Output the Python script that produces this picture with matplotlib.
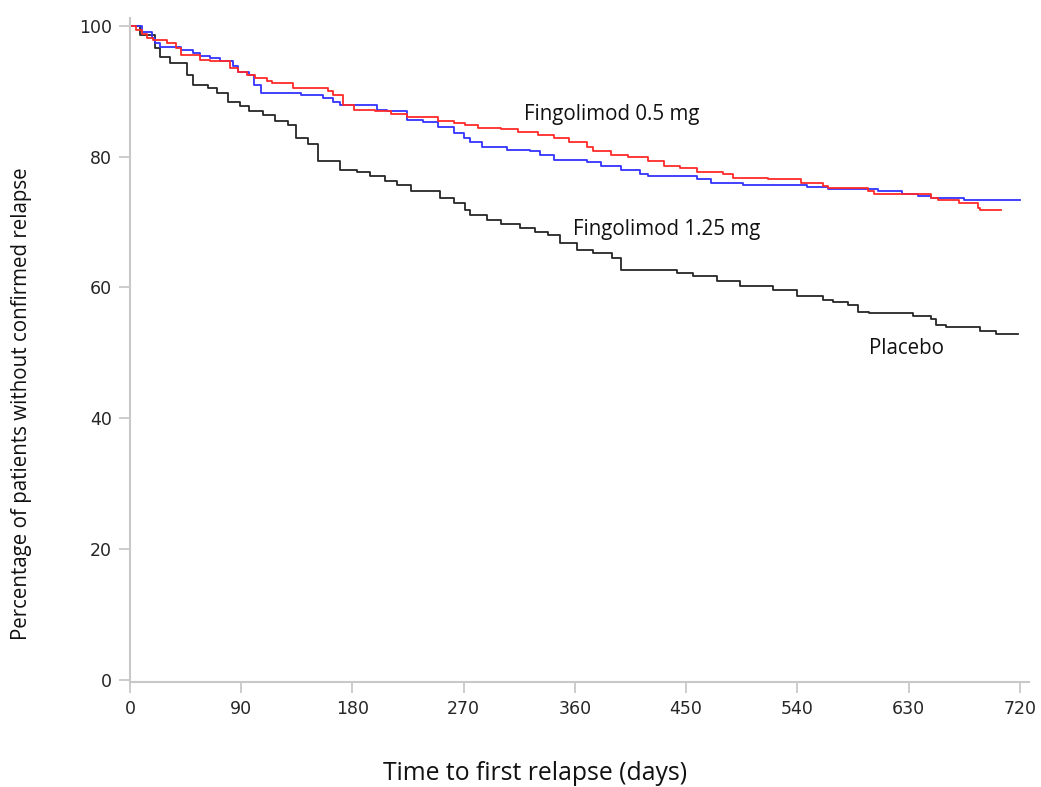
import matplotlib
matplotlib.use("Agg")
import matplotlib.pyplot as plt

# ---------- Data ----------
placebo_t = [0, 8, 20, 24, 32, 46, 51, 63, 70, 79, 89, 96, 108, 117, 128, 134,
             144, 152, 170, 184, 194, 206, 216, 227, 251, 262, 271, 275, 289,
             300, 316, 328, 338, 348, 362, 375, 390, 397, 443, 456, 475, 494,
             520, 540, 561, 569, 581, 589, 598, 634, 648, 652, 660, 688, 701, 719]
placebo_v = [100, 98.6, 96.6, 95.3, 94.3, 92.5, 91.0, 90.5, 89.7, 88.4, 87.7,
             86.9, 86.4, 85.4, 84.9, 82.9, 82.0, 79.3, 78.0, 77.7, 77.0, 76.2,
             75.6, 74.7, 73.7, 72.9, 71.9, 71.1, 70.3, 69.7, 69.1, 68.5, 68.0,
             66.8, 65.7, 65.3, 64.5, 62.7, 62.2, 61.7, 60.9, 60.2, 59.6, 58.6,
             58.1, 57.8, 57.3, 56.3, 56.0, 55.6, 55.1, 54.3, 53.9, 53.3, 52.9, 52.9]

fg05_t = [0, 5, 10, 14, 19, 30, 37, 41, 57, 65, 81, 87, 95, 101, 111, 115, 132,
          160, 164, 172, 181, 198, 211, 224, 249, 262, 271, 282, 300, 314, 330,
          343, 355, 370, 375, 389, 403, 419, 432, 445, 459, 480, 488, 516, 543,
          561, 565, 597, 602, 648, 654, 671, 686, 688, 705]
fg05_v = [100, 99.3, 98.7, 98.2, 97.9, 97.4, 96.6, 95.6, 94.8, 94.6, 93.5, 93.0,
          92.5, 92.0, 91.5, 91.2, 90.5, 90.1, 89.4, 87.9, 87.2, 86.9, 86.5, 86.1,
          85.4, 85.1, 84.8, 84.4, 84.2, 83.7, 83.3, 82.8, 82.3, 81.5, 80.8, 80.3,
          80.0, 79.3, 78.5, 78.2, 77.7, 77.4, 76.8, 76.5, 75.9, 75.5, 75.2, 74.8,
          74.2, 73.6, 73.3, 72.9, 72.1, 71.8, 71.8]

fg125_t = [0, 10, 18, 20, 24, 41, 51, 57, 65, 73, 83, 87, 96, 100, 106, 138,
           156, 164, 170, 200, 208, 224, 237, 249, 262, 270, 275, 285, 305, 324,
           332, 343, 370, 381, 397, 413, 419, 459, 470, 496, 548, 565, 605, 625,
           638, 648, 675, 720]
fg125_v = [100, 99.1, 98.2, 97.4, 96.8, 96.3, 95.8, 95.4, 95.1, 94.6, 93.8, 93.0,
           92.5, 91.0, 89.7, 89.4, 88.9, 88.4, 87.9, 87.2, 86.9, 85.6, 85.3, 84.6,
           83.6, 82.8, 82.3, 81.5, 81.0, 80.8, 80.3, 79.5, 79.2, 78.5, 78.0, 77.4,
           77.0, 76.6, 76.0, 75.7, 75.3, 75.0, 74.7, 74.3, 74.0, 73.6, 73.3, 73.3]

x_ticks = [0, 90, 180, 270, 360, 450, 540, 630, 720]
y_ticks = [0, 20, 40, 60, 80, 100]

# ---------- Figure ----------
fig = plt.figure(figsize=(10.41, 7.87), dpi=100)
ax = fig.add_axes([130 / 1041, 1 - 681.5 / 787, (1029 - 130) / 1041, (681.5 - 18) / 787])

ax.plot(placebo_t, placebo_v, drawstyle="steps-post", color="#262626", lw=1.3)
ax.plot(fg125_t, fg125_v, drawstyle="steps-post", color="#3333ff", lw=1.3)
ax.plot(fg05_t, fg05_v, drawstyle="steps-post", color="#ff2a2a", lw=1.3)

ax.set_xlim(0, 727.5)
ax.set_ylim(-0.3, 101.2)
ax.set_xticks(x_ticks)
ax.set_yticks(y_ticks)

for s in ["top", "right"]:
    ax.spines[s].set_visible(False)
for s in ["left", "bottom"]:
    ax.spines[s].set_color("#c8c8c8")
    ax.spines[s].set_linewidth(1.5)
ax.tick_params(colors="#c8c8c8", length=8, width=1.3, labelcolor="#262626",
               labelsize=12.5, pad=5)

# curve labels
lab_font = ["Open Sans", "DejaVu Sans"]
ax.text(319, 86.4, "Fingolimod 0.5 mg", fontsize=14.8, family=lab_font,
        color="#111111", va="center")
ax.text(358.5, 68.9, "Fingolimod 1.25 mg", fontsize=14.8, family=lab_font,
        color="#111111", va="center")
ax.text(598, 50.6, "Placebo", fontsize=14.8, family=lab_font,
        color="#111111", va="center")

fig.text(535 / 1041, 1 - 773 / 787, "Time to first relapse (days)", ha="center",
         va="center", fontsize=17.8, family=lab_font, color="#111111")
fig.text(22 / 1041, 1 - 404 / 787, "Percentage of patients without confirmed relapse",
         ha="center", va="center", rotation=90, fontsize=14.8, family=lab_font,
         color="#111111")

fig.savefig("out.png", dpi=100)
